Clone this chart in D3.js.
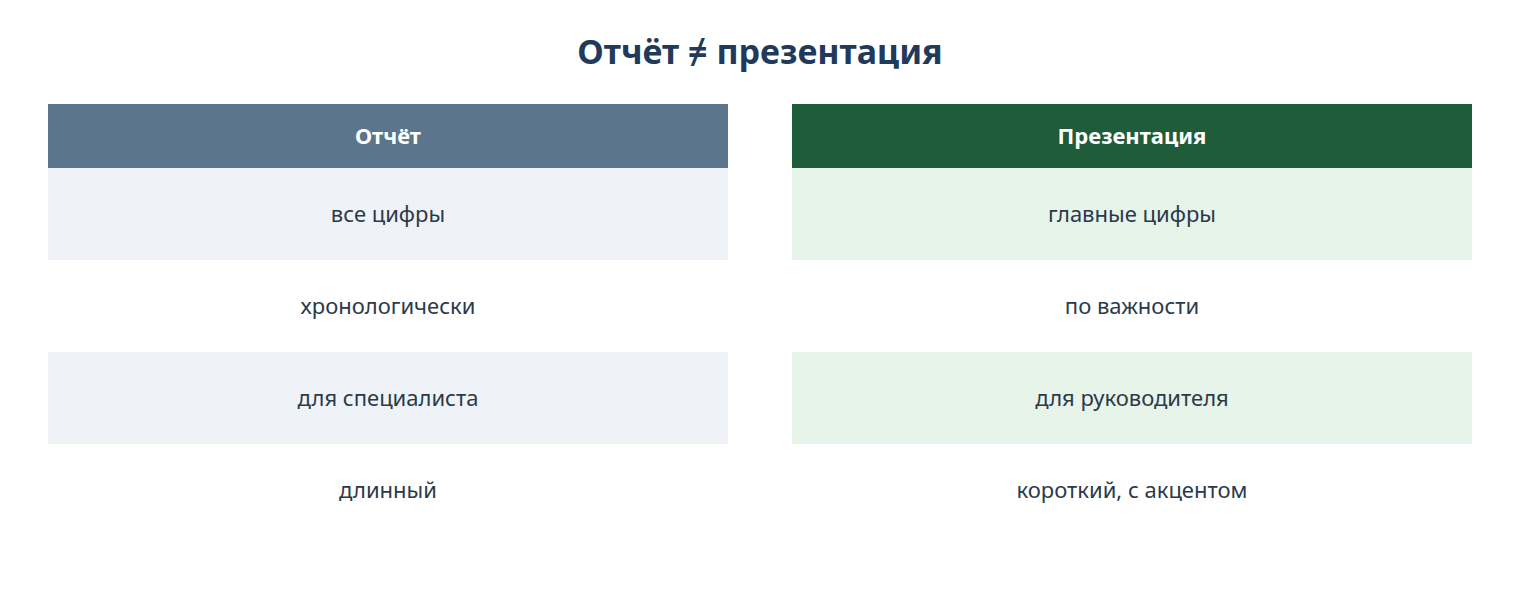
<!DOCTYPE html>
<html><head><meta charset="utf-8">
<script src="https://cdn.jsdelivr.net/npm/d3@7/dist/d3.min.js"></script>
<style>body{margin:0;background:#fff}</style></head>
<body><svg id="c" width="1520" height="600"></svg>
<script>
const title = "Отчёт ≠ презентация";
const headers = ["Отчёт", "Презентация"];
const leftRows = ["все цифры", "хронологически", "для специалиста", "длинный"];
const rightRows = ["главные цифры", "по важности", "для руководителя", "короткий, с акцентом"];
const headColors = ["#5b758c", "#1e5c3a"];
const rowFills = ["#eff3f7", "#e6f4ea"];
const font = "'Noto Sans', 'Open Sans', sans-serif";
const svg = d3.select("#c");
svg.append("text").attr("x",760).attr("y",64).attr("text-anchor","middle")
  .attr("font-family",font).attr("font-weight","bold").attr("font-size",34).attr("fill","#1f3a5a").text(title);
const x = d3.scaleBand().domain([0,1]).range([48,1472]).paddingInner(64/744);
const y = d3.scaleBand().domain(d3.range(4)).range([168,536]);
[leftRows,rightRows].forEach((rows,i)=>{
  const g = svg.append("g");
  g.append("rect").attr("x",x(i)).attr("y",104).attr("width",x.bandwidth()).attr("height",64).attr("fill",headColors[i]);
  g.append("text").attr("x",x(i)+x.bandwidth()/2).attr("y",136).attr("dy","0.35em").attr("text-anchor","middle")
    .attr("font-family",font).attr("font-weight","bold").attr("font-size",22).attr("fill","#fff").text(headers[i]);
  rows.forEach((r,j)=>{
    if(j%2===0) g.append("rect").attr("x",x(i)).attr("y",y(j)).attr("width",x.bandwidth()).attr("height",y.bandwidth()).attr("fill",rowFills[i]);
    g.append("text").attr("x",x(i)+x.bandwidth()/2).attr("y",y(j)+y.bandwidth()/2).attr("dy","0.35em").attr("text-anchor","middle")
      .attr("font-family",font).attr("font-size",22).attr("fill","#2b3a4a").text(r);
  });
});
</script></body></html>
